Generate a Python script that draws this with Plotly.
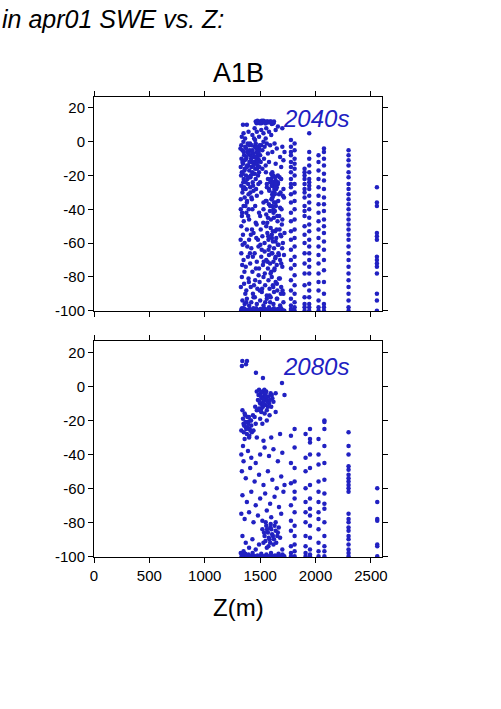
import plotly.graph_objects as go

# ---------------- data ----------------
# 2040s : dense cloud of (Z, change) points
cloud40_x = [1460,1475,1490,1500,1510,1520,1530,1545,1560,1575,1590,1605,1615,1625,1468,1482,1496,1515,1538,1552,1568,1583,1598,1620,
             1345,1380,1350,1395,1430,1450,1470,1490,1510,1530,1555,1580,1600,1640,1660,1700,
             1330,1340,1355,1365,1375,1385,1400,1410,1420,1430,1440,1450,1460,1470,1480,1490,1500,1510,1520,1530,1540,1550,1560,1570,1590,1610,1630,1650,1680,1700,1720,
             1325,1335,1345,1352,1362,1372,1382,1392,1402,1412,1422,1432,1442,1455,1465,1478,1490,1505,1520,1535,1550,1580,1610,1640,1660,1690,1710,
             1330,1340,1348,1360,1370,1380,1395,1410,1425,1440,1455,1470,1490,1510,1530,1560,1580,1600,1610,1620,1630,1640,1650,1660,1670,1690,1710,
             1325,1335,1350,1375,1400,1430,1460,1500,1530,1550,1570,1590,1605,1620,1640,1655,1680,1700,1715,
             1330,1345,1360,1380,1400,1420,1440,1465,1485,1505,1520,1540,1555,1565,1575,1585,1595,1605,1615,1625,1635,1645,1660,1675,1690,1705,1720,
             1330,1350,1370,1390,1410,1430,1450,1470,1490,1510,1525,1540,1555,1570,1580,1590,1600,1610,1620,1630,1640,1650,1665,1680,1700,1715,
             1335,1355,1375,1395,1415,1435,1455,1475,1495,1515,1530,1545,1560,1575,1585,1595,1605,1615,1625,1640,1655,1670,1690,1710,
             1340,1360,1380,1400,1420,1440,1470,1500,1530,1560,1590,1620,1650,1680,1710,
             1322,1328,1334,1340,1346,1352,1358,1364,1370,1376,1382,1388,1394,1400,1406,1412,1418,1424,1430,1436,1442,1448,1454,1460,1466,1472,1478,1484,1490,1496,
             1325,1331,1337,1343,1349,1355,1361,1367,1373,1379,1385,1391,1397,1403,1409,1415,1421,1427,1433,1439,1445,1451,1457,1463,1469,1475,1481,1487,1493,1499,
             1552,1558,1564,1570,1576,1582,1588,1594,1600,1606,1612,1618,1624,1630,1636,1642,1648,1654,1660,1666,1672,1678,1684,1690,1696,1702,
             1555,1561,1567,1573,1579,1585,1591,1597,1603,1609,1615,1621,1627,1633,1639,1645,1651,1657,1663,1669,1675,1681,1687,1693,1699,1705,
             1598,1604,1610,1616,1622,1628,1634,1640,1602,1614,1626,1638,1608,1620,1632,
             1324,1338,1352,1366,1384,1398,1416,1434,1452,1468,1486,1502,1518,1532,1546,1326,1342,1358,1374,1392,1408,1426,1444,1462,1480,1496,1514,1528,1542,
             1338,1368,1398,1428,1458,1482,1512,1538,1562,1588,1612,1638,1662,1688,1712,
             1328,1362,1392,1418,1448,1478,1508,1548,1572,1598,1628,1652,1676,1698,
             1332,1345,1352,1375,1388,1405,1440,1465,1495,1520,1545,1580,1605,1630,1660,1690,1718,
             1336,1356,1384,1412,1438,1474,1504,1534,1566,1594,1624,1656,1684,1708]
cloud40_y = [12,12.5,11.5,12,11,12,12.5,11,12,11.5,12,10.5,11,12,11,12,11,12.5,12,11,12,11.5,12,11,
             10,10,5,6,4,8,6,3,7,5,8,6,4,7,9,8,
             -2,-5,-8,-3,-10,-6,-2,-8,-12,-5,-9,-3,-1,-6,-10,-4,-8,-2,-5,0,-3,2,-1,-7,-2,-6,-1,-4,-9,-3,-6,
             -15,-18,-13,-22,-16,-20,-14,-25,-17,-21,-15,-19,-12,-16,-11,-14,-18,-12,-16,-10,-14,-12,-18,-13,-20,-15,-11,
             -26,-30,-24,-33,-28,-36,-31,-27,-34,-29,-38,-32,-42,-30,-36,-25,-28,-22,-26,-24,-30,-23,-27,-25,-31,-22,-28,
             -40,-44,-38,-42,-46,-40,-48,-44,-40,-35,-45,-38,-34,-42,-36,-44,-39,-46,-33,
             -50,-55,-60,-52,-58,-63,-54,-57,-62,-52,-56,-60,-50,-54,-58,-62,-51,-55,-59,-63,-53,-57,-61,-52,-56,-60,-54,
             -66,-70,-74,-68,-72,-77,-66,-71,-75,-68,-73,-65,-70,-75,-67,-72,-77,-66,-71,-75,-68,-73,-66,-70,-74,-67,
             -80,-84,-88,-81,-86,-90,-82,-87,-83,-89,-80,-85,-91,-82,-87,-92,-80,-85,-89,-83,-88,-81,-86,-90,
             -94,-96,-93,-97,-95,-92,-96,-94,-97,-93,-95,-96,-93,-97,-95,
             -4,-20,3,-12,-28,-6,-17,2,-24,-9,-35,-1,-14,-21,-5,-30,-10,-2,-18,-26,-7,-13,1,-22,-4,-16,-8,-25,-11,-2,
             -34,-10,-42,-19,0,-27,-11,-38,-4,-15,-22,-7,-40,-12,-1,-20,-33,-6,-24,-14,2,-19,-9,-28,-3,-12,-20,-6,-15,-24,
             -18,-35,-48,-22,-64,-29,-41,-78,-19,-57,-33,-86,-45,-26,-69,-38,-52,-93,-24,-61,-44,-81,-30,-72,-49,-88,
             -43,-27,-71,-56,-37,-91,-24,-46,-66,-31,-53,-20,-76,-41,-59,-28,-84,-47,-35,-67,-21,-55,-90,-40,-63,-32,
             -22,-26,-20,-30,-24,-28,-21,-27,-34,-32,-36,-25,-38,-40,-31,
             -58,-73,-47,-90,-62,-83,-55,-68,-92,-49,-79,-61,-87,-71,-95,-86,-61,-77,-95,-44,-66,-52,-85,-75,-58,-88,-64,-48,-78,
             -100,-100,-100,-100,-100,-100,-100,-100,-100,-100,-100,-100,-100,-100,-100,
             -100,-100,-100,-100,-100,-100,-100,-100,-100,-100,-100,-100,-100,-100,
             -99,-100,-98.5,-99.5,-100,-99,-100,-98.5,-99.5,-100,-99,-98,-99.5,-100,-99,-98.5,-100,
             -98.5,-99,-100,-99.5,-98.5,-100,-99,-98.5,-100,-99.5,-98.5,-100,-99,-100]

# 2040s : station columns (elevation -> list of values)
cols40 = {
    1778: [1,-3,-6,-8,-12,-15,-18,-22,-25,-27,-31,-36,-42,-47,-53,-58,-64,-70,-75,-82,-88,-93,-97,-99,-100],
    1811: [-1,-5,-10,-13,-16,-20,-25,-30,-35,-40,-46,-52,-57,-62,-68,-73,-79,-85,-90,-95,-98,-100],
    1901: [-16,-18,-20,-22,-25,-28,-30,-33,-38,-41,-44,-50,-55,-60,-66,-72,-78,-85,-92,-96,-98,-100],
    1943: [5,-6,-10,-14,-18,-22,-24,-26,-28,-32,-36,-40,-45,-49,-53,-58,-62,-66,-70,-74,-78,-84,-88,-92,-96,-98,-100],
    2027: [-8,-12,-17,-22,-27,-32,-37,-42,-47,-52,-57,-62,-67,-72,-78,-83,-88,-94,-98,-100],
    2076: [-4,-6,-10,-14,-19,-23,-28,-33,-37,-41,-46,-50,-54,-59,-64,-70,-76,-83,-90,-96,-98,-100],
    2298: [-5,-8,-11,-14,-18,-21,-25,-28,-31,-34,-37,-40,-43,-46,-49,-52,-55,-58,-62,-66,-70,-74,-78,-82,-86,-90,-94,-98,-100],
    2554: [-27,-36,-38,-54,-56,-58,-68,-70,-72,-74,-78,-90,-94,-100],
}

# 2080s : dense cloud
cloud80_x = [1339,1381,1335,1372,1462,1525,1697,1720,1640,
             1470,1490,1505,1520,1540,1555,1575,1595,1610,1480,1500,1515,1530,1545,1560,1580,1600,1620,
             1455,1470,1490,1510,1525,1540,1560,1585,1640,1450,1500,1560,1520,
             1340,1360,1385,1410,1435,1350,1370,1390,1405,1420,1440,1460,1380,1400,1425,1360,1330,1470,1345,
             1330,1350,1390,1420,1460,1500,1540,1580,1620,1660,1700,1600,1680,1530,
             1335,1370,1410,1450,1490,1530,1570,1610,1650,1690,1720,
             1340,1380,1420,1460,1500,1545,1590,1630,1670,1710,
             1330,1360,1400,1440,1480,1520,1560,1600,1640,1690,
             1520,1540,1555,1570,1585,1600,1615,1630,1645,1660,1680,1530,1575,1620,1550,1595,
             1340,1370,1400,1430,1460,1490,1700,1350,
             1485,1495,1508,1518,1532,1548,1565,1588,1605,1512,1528,1552,1570,1498,1538,
             1345,1355,1365,1375,1392,1398,1412,1418,1352,1368,1388,1402,
             1535,1548,1562,1578,1592,1608,1625,1640,1655,1668,1590,1560,
             1325,1348,1366,1396,1432,1476,1510,1556,1598,1634,1666,1702,
             1332,1362,1392,1422,1452,1482,1512,1542,1572,1602,1632,1662,1692,1718,
             1348,1378,1408,1438,1468,1498,1528,1558,1588,1618,1648,1678,1706]
cloud80_y = [15,15,12,13,8,5,2,-5,-4,
             -3,-2,-4,-3,-5,-3,-6,-4,-7,-8,-10,-7,-9,-11,-8,-10,-12,-9,
             -12,-14,-13,-15,-12,-16,-14,-17,-15,-18,-19,-20,-22,
             -14,-16,-18,-20,-17,-22,-24,-21,-25,-23,-26,-22,-28,-30,-27,-31,-26,-30,-35,
             -40,-44,-38,-42,-45,-40,-36,-41,-37,-44,-39,-30,-28,-32,
             -50,-54,-48,-56,-52,-58,-50,-55,-60,-53,-58,
             -64,-68,-62,-70,-66,-63,-69,-65,-71,-62,
             -75,-78,-74,-80,-76,-79,-73,-77,-80,-75,
             -84,-88,-82,-86,-90,-84,-88,-82,-92,-86,-89,-92,-94,-93,-80,-81,
             -88,-92,-95,-90,-96,-93,-96,-97,
             -5,-9,-6,-11,-7,-4,-9,-8,-5,-13,-10,-6,-12,-14,-2,
             -19,-23,-17,-25,-22,-18,-26,-20,-27,-21,-24,-29,
             -86,-91,-84,-89,-83,-87,-90,-85,-88,-83,-92,-95,
             -98,-99,-98.5,-99,-98,-99.5,-98.5,-99,-98,-99.5,-98.5,-99,
             -100,-100,-100,-100,-100,-100,-100,-100,-100,-100,-100,-100,-100,-100,
             -100,-100,-100,-100,-100,-100,-100,-100,-100,-100,-100,-100,-100]

cols80 = {
    1778: [-29,-45,-57,-70,-79,-85,-94,-98,-100],
    1811: [-25,-36,-48,-56,-62,-66,-74,-82,-88,-93,-97,-100],
    1910: [-28,-42,-50,-60,-68,-74,-80,-88,-94,-98,-100],
    1950: [-25,-31,-33,-40,-48,-58,-66,-72,-76,-82,-89,-96,-99,-100],
    2027: [-31,-40,-46,-56,-62,-68,-74,-78,-84,-92,-97,-100],
    2080: [-20,-21,-25,-35,-45,-55,-63,-69,-72,-80,-88,-94,-97,-100],
    2298: [-27,-35,-40,-47,-49,-52,-54,-56,-58,-60,-62,-75,-78,-80,-83,-85,-88,-90,-93,-96,-98,-100],
    2557: [-60,-68,-78,-79,-93,-94,-100],
}

x_ticks = [0, 500, 1000, 1500, 2000, 2500]
y_ticks = [20, 0, -20, -40, -60, -80, -100]
y_tick_text = ["20", "0", "-20", "-40", "-60", "-80", "-100"]
panel_labels = ["2040s", "2080s"]
scenario = "A1B"
main_title = "in apr01 SWE vs. Z:"
x_title = "Z(m)"

# ---------------- figure ----------------
BLUE = "#2121c2"
FONT = "Liberation Sans, Arial, Helvetica, sans-serif"


def flatten(cloud_x, cloud_y, cols):
    xs = list(cloud_x)
    ys = list(cloud_y)
    for z, vals in cols.items():
        xs += [z] * len(vals)
        ys += vals
    return xs, ys


fig = go.Figure()
for i, (cx, cy, cols) in enumerate([(cloud40_x, cloud40_y, cols40),
                                    (cloud80_x, cloud80_y, cols80)]):
    xs, ys = flatten(cx, cy, cols)
    fig.add_trace(go.Scatter(
        x=xs, y=ys, mode="markers",
        marker=dict(color=BLUE, size=4.5, line=dict(width=0)),
        xaxis="x" if i == 0 else "x2",
        yaxis="y" if i == 0 else "y2",
        showlegend=False, hoverinfo="skip"))

axis_common = dict(
    showline=True, linecolor="black", linewidth=1, mirror="ticks",
    ticks="outside", ticklen=5, tickwidth=1, tickcolor="black",
    showgrid=False, zeroline=False,
    tickfont=dict(family=FONT, size=15, color="black"),
)

fig.update_layout(
    width=501, height=709,
    margin=dict(l=94, r=119, t=97, b=152),
    paper_bgcolor="white", plot_bgcolor="white",
    font=dict(family=FONT, color="black"),
    xaxis=dict(domain=[0, 1], range=[0, 2600], tickvals=x_ticks,
               showticklabels=False, anchor="y", **axis_common),
    yaxis=dict(domain=[0.534, 1], range=[-100.4, 26.5], tickvals=y_ticks,
               ticktext=y_tick_text, anchor="x", **axis_common),
    xaxis2=dict(domain=[0, 1], range=[0, 2600], tickvals=x_ticks,
                anchor="y2", **axis_common),
    yaxis2=dict(domain=[0, 0.4687], range=[-100.4, 26.5], tickvals=y_ticks,
                ticktext=y_tick_text, anchor="x2", **axis_common),
)

fig.add_annotation(text="<i>" + panel_labels[0] + "</i>", xref="x", yref="y",
                   x=2006, y=13.7, showarrow=False,
                   font=dict(family=FONT, size=24, color=BLUE),
                   xanchor="center", yanchor="middle")
fig.add_annotation(text="<i>" + panel_labels[1] + "</i>", xref="x2", yref="y2",
                   x=2006, y=11.9, showarrow=False,
                   font=dict(family=FONT, size=24, color=BLUE),
                   xanchor="center", yanchor="middle")
fig.add_annotation(text=scenario, xref="paper", yref="paper", x=0.5, y=1.053,
                   showarrow=False, font=dict(family=FONT, size=27, color="black"),
                   xanchor="center", yanchor="middle")
fig.add_annotation(text=x_title, xref="paper", yref="paper", x=0.5, y=-0.110,
                   showarrow=False, font=dict(family=FONT, size=24, color="black"),
                   xanchor="center", yanchor="middle")
fig.add_annotation(text="<i>" + main_title + "</i>", xref="paper", yref="paper",
                   x=(0 - 94) / 288, y=(557 - 19) / 460,
                   showarrow=False, font=dict(family=FONT, size=25, color="black"),
                   xanchor="left", yanchor="middle")

fig.write_html("out.html", config={"displayModeBar": False},
               post_script="document.body.style.margin='0';")
